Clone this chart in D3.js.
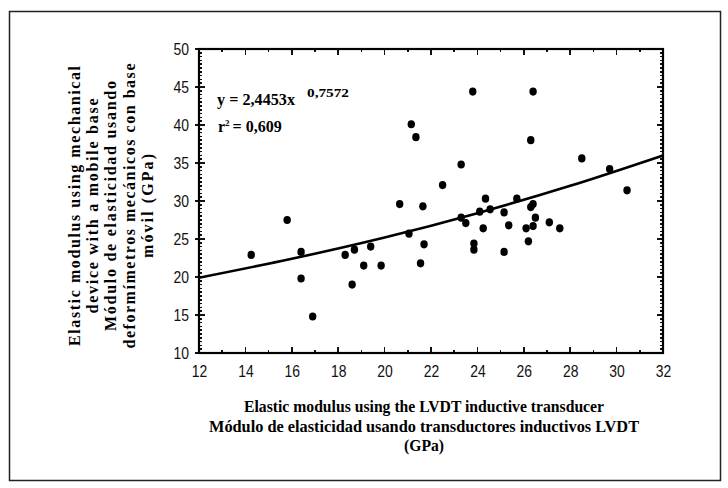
<!DOCTYPE html>
<html>
<head>
<meta charset="utf-8">
<script src="https://cdn.jsdelivr.net/npm/d3@7"></script>
<style>
  body { margin: 0; background: #fff; }
  svg { display: block; }
</style>
</head>
<body>
<div id="chart"></div>
<script>
//data (GPa)
const lvdt = [14.25, 15.8, 16.4, 16.4, 16.9, 18.3, 18.7, 18.6, 19.1, 19.4, 19.85, 20.65, 21.05, 21.15, 21.35, 21.55, 21.65, 21.7, 22.5, 23.3, 23.3, 23.5, 23.8, 23.85, 23.85, 24.1, 24.25, 24.35, 24.55, 25.15, 25.15, 25.35, 25.7, 26.1, 26.2, 26.3, 26.4, 26.3, 26.4, 26.4, 26.5, 27.1, 27.55, 28.5, 29.7, 30.45];
const mechanical = [22.9, 27.5, 23.3, 19.8, 14.8, 22.9, 23.6, 19.0, 21.5, 24.0, 21.5, 29.6, 25.7, 40.1, 38.4, 21.8, 29.3, 24.3, 32.1, 34.8, 27.8, 27.1, 44.4, 24.4, 23.6, 28.6, 26.4, 30.3, 28.9, 28.5, 23.3, 26.8, 30.3, 26.4, 24.7, 38.0, 44.4, 29.2, 29.6, 26.7, 27.8, 27.2, 26.4, 35.6, 34.2, 31.4];

//trend curve as drawn in the picture
const trendX = [12, 16, 20, 24, 28, 32];
const trendY = [19.9, 22.4, 25.2, 28.4, 32.0, 36.0];

//ticks
const xTicks = [12, 14, 16, 18, 20, 22, 24, 26, 28, 30, 32];
const yTicks = [10, 15, 20, 25, 30, 35, 40, 45, 50];

//texts
const equationText = "y = 2,4453x";
const exponentText = "0,7572";
const r2Text = "= 0,609";
const xTitle = [
  "Elastic modulus using the LVDT inductive transducer",
  "Módulo de elasticidad usando transductores inductivos LVDT",
  "(GPa)",
];
const yTitle = [
  "Elastic modulus using mechanical",
  "device with a mobile base",
  "Módulo de elasticidad usando",
  "deformímetros mecánicos con base",
  "móvil (GPa)",
];

//svg size
const width = 728;
const height = 488;
const plot = { left: 199, right: 663, top: 49, bottom: 353 };

const tickFont = "'Liberation Sans Narrow', 'Arial Narrow', 'Liberation Sans', sans-serif";
const titleFont = "'Liberation Serif', 'Times New Roman', serif";

const x = d3.scaleLinear().domain([12, 32]).range([plot.left, plot.right]);
const y = d3.scaleLinear().domain([10, 50]).range([plot.bottom, plot.top]);

const svg = d3
  .select("#chart")
  .append("svg")
  .attr("width", width)
  .attr("height", height);

//outer frame
svg
  .append("rect")
  .attr("x", 9.5)
  .attr("y", 11.5)
  .attr("width", 711)
  .attr("height", 469)
  .attr("fill", "none")
  .attr("stroke", "#222")
  .attr("stroke-width", 1.5);

//minor + major ticks (inside the box, all four sides)
const g = svg.append("g").attr("stroke", "#111").attr("shape-rendering", "crispEdges");
const xMinor = d3.range(12, 32.01, 1);
const yMinor = d3.range(10, 50.01, 0.5);

g.selectAll("line.xb")
  .data(xMinor)
  .join("line")
  .attr("x1", (d) => x(d))
  .attr("x2", (d) => x(d))
  .attr("y1", plot.bottom)
  .attr("y2", (d) => plot.bottom - (d % 2 === 0 ? 6 : 3))
  .attr("stroke-width", 1.5);

g.selectAll("line.xt")
  .data(xMinor)
  .join("line")
  .attr("x1", (d) => x(d))
  .attr("x2", (d) => x(d))
  .attr("y1", plot.top)
  .attr("y2", (d) => plot.top + (d % 2 === 0 ? 6 : 3))
  .attr("stroke-width", 1.5);

g.selectAll("line.yl")
  .data(yMinor)
  .join("line")
  .attr("x1", (d) => plot.left - (d % 5 === 0 ? 4 : 0))
  .attr("x2", (d) => plot.left + (d % 5 === 0 ? 6 : 3))
  .attr("y1", (d) => y(d))
  .attr("y2", (d) => y(d))
  .attr("stroke-width", 1.5);

g.selectAll("line.yr")
  .data(yMinor)
  .join("line")
  .attr("x1", (d) => plot.right)
  .attr("x2", (d) => plot.right - (d % 5 === 0 ? 6 : 3))
  .attr("y1", (d) => y(d))
  .attr("y2", (d) => y(d))
  .attr("stroke-width", 1.5);

//axes box
svg
  .append("rect")
  .attr("x", plot.left)
  .attr("y", plot.top)
  .attr("width", plot.right - plot.left)
  .attr("height", plot.bottom - plot.top)
  .attr("fill", "none")
  .attr("stroke", "#000")
  .attr("stroke-width", 2.2);

//tick labels via d3 axes
const xAxis = svg
  .append("g")
  .attr("transform", `translate(0,${plot.bottom})`)
  .call(d3.axisBottom(x).tickValues(xTicks).tickSize(0).tickPadding(12));
const yAxis = svg
  .append("g")
  .attr("transform", `translate(${plot.left},0)`)
  .call(d3.axisLeft(y).tickValues(yTicks).tickSize(0).tickPadding(10));

//narrow digits like the original
[xAxis, yAxis].forEach((a) => {
  a.select(".domain").remove();
  a.selectAll("text")
    .attr("font-family", tickFont)
    .attr("font-size", 17)
    .attr("fill", "#111")
    .attr("textLength", 15.5)
    .attr("lengthAdjust", "spacingAndGlyphs");
});

//trend curve
const line = d3
  .line()
  .x((d) => x(d[0]))
  .y((d) => y(d[1]))
  .curve(d3.curveMonotoneX);

svg
  .append("path")
  .datum(d3.zip(trendX, trendY))
  .attr("d", line)
  .attr("fill", "none")
  .attr("stroke", "#000")
  .attr("stroke-width", 2.6);

//points
svg
  .append("g")
  .selectAll("ellipse")
  .data(d3.zip(lvdt, mechanical))
  .join("ellipse")
  .attr("cx", (d) => x(d[0]))
  .attr("cy", (d) => y(d[1]))
  .attr("rx", 3.7)
  .attr("ry", 4.1)
  .attr("fill", "#000");

//equation
const eq = svg
  .append("g")
  .attr("font-family", titleFont)
  .attr("font-weight", "bold")
  .attr("fill", "#000");

eq.append("text")
  .attr("x", 217)
  .attr("y", 105)
  .attr("font-size", 16)
  .attr("textLength", 78)
  .attr("lengthAdjust", "spacingAndGlyphs")
  .text(equationText);

eq.append("text")
  .attr("x", 307)
  .attr("y", 97)
  .attr("font-size", 12.5)
  .attr("textLength", 42)
  .attr("lengthAdjust", "spacingAndGlyphs")
  .text(exponentText);

const r2 = eq
  .append("text")
  .attr("x", 218)
  .attr("y", 132)
  .attr("font-size", 16);
r2.append("tspan").text("r");
r2.append("tspan").attr("dy", -6).attr("font-size", 9).text("2");
r2.append("tspan").attr("dy", 6).attr("dx", 3).text(r2Text);

//x title
const xTitleWidths = [360, 430, 40];
svg
  .append("g")
  .selectAll("text")
  .data(xTitle)
  .join("text")
  .attr("x", 424)
  .attr("y", (d, i) => 412 + i * 19.5)
  .attr("text-anchor", "middle")
  .attr("font-family", titleFont)
  .attr("font-weight", "bold")
  .attr("font-size", 16)
  .attr("textLength", (d, i) => xTitleWidths[i])
  .attr("lengthAdjust", "spacingAndGlyphs")
  .text((d) => d);

//y title (letter spaced in the original)
const yTitleWidths = [280, 215, 250, 285, 104];
svg
  .append("g")
  .attr("transform", "translate(0,206) rotate(-90)")
  .selectAll("text")
  .data(yTitle)
  .join("text")
  .attr("x", 0)
  .attr("y", (d, i) => 80 + i * 18.2)
  .attr("text-anchor", "middle")
  .attr("font-family", titleFont)
  .attr("font-weight", "bold")
  .attr("font-size", 16)
  .attr("textLength", (d, i) => yTitleWidths[i])
  .attr("lengthAdjust", "spacing")
  .text((d) => d);
</script>
</body>
</html>
